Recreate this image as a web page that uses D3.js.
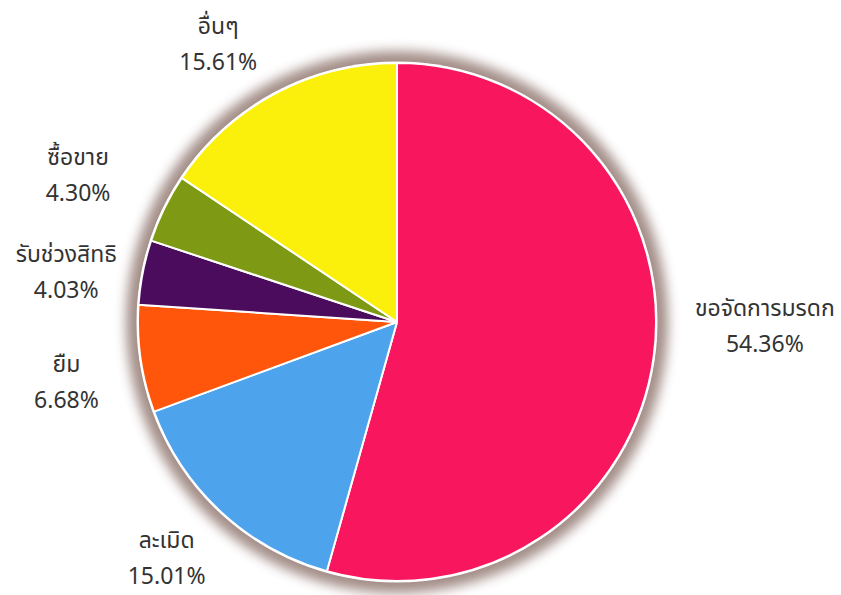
<!DOCTYPE html>
<html>
<head>
<meta charset="utf-8">
<script src="https://cdn.jsdelivr.net/npm/d3@7"></script>
<style>
html,body{margin:0;padding:0;background:#fff;}
svg{display:block;}
</style>
</head>
<body>
<svg id="chart" width="841" height="595"></svg>
<script>
// ---- data ----
const categories = ["ขอจัดการมรดก", "ละเมิด", "ยืม", "รับช่วงสิทธิ", "ซื้อขาย", "อื่นๆ"];
const values = [54.36, 15.01, 6.68, 4.03, 4.30, 15.61];
const valueLabels = ["54.36%", "15.01%", "6.68%", "4.03%", "4.30%", "15.61%"];
const colors = ["#F8165E", "#4DA3EC", "#FF560C", "#4B0C5E", "#7E9913", "#FAF00C"];

// ---- layout ----
const W = 841, H = 595;
const cx = 397, cy = 322, R = 259;
const labelR = 335;
const lineGap = 36;
// fine nudges for label blocks (layout only)
const nudges = {
  "ขอจัดการมรดก": [36, -52],
  "ละเมิด": [-3, -20],
  "ยืม": [1, 2],
  "รับช่วงสิทธิ": [-2, 4],
  "ซื้อขาย": [-18, -10],
  "อื่นๆ": [-21, 8]
};

const svg = d3.select("#chart");
const defs = svg.append("defs");
const f = defs.append("filter").attr("id", "halo")
  .attr("x", "-20%").attr("y", "-20%").attr("width", "140%").attr("height", "140%");
f.append("feGaussianBlur").attr("stdDeviation", 6);

const g = svg.append("g").attr("transform", `translate(${cx},${cy})`);

// halo / shadow behind the pie
g.append("circle").attr("r", R + 12)
  .attr("fill", "#9a827c").attr("opacity", 0.9)
  .attr("filter", "url(#halo)");
g.append("circle").attr("r", R + 1.5).attr("fill", "#ffffff");

const data = categories.map((c, i) => ({cat: c, value: values[i], label: valueLabels[i], color: colors[i]}));

const pie = d3.pie().sort(null).value(d => d.value);
const arc = d3.arc().innerRadius(0).outerRadius(R);
const arcs = pie(data);

g.selectAll("path.slice").data(arcs).join("path")
  .attr("class", "slice")
  .attr("d", arc)
  .attr("fill", d => d.data.color)
  .attr("stroke", "#ffffff")
  .attr("stroke-width", 2)
  .attr("stroke-linejoin", "round");

const lbl = svg.append("g")
  .attr("font-family", "'Noto Sans Thai', 'Noto Sans', 'Open Sans', 'DejaVu Sans', sans-serif")
  .attr("font-size", 23)
  .attr("fill", "#333333")
  .attr("text-anchor", "middle");

arcs.forEach(a => {
  const mid = (a.startAngle + a.endAngle) / 2;
  const n = nudges[a.data.cat] || [0, 0];
  const x = cx + labelR * Math.sin(mid) + n[0];
  const y = cy - labelR * Math.cos(mid) + n[1];
  const t = lbl.append("text").attr("x", x).attr("y", y);
  t.append("tspan").attr("x", x).attr("y", y).text(a.data.cat);
  t.append("tspan").attr("x", x).attr("y", y + lineGap).text(a.data.label);
});
</script>
</body>
</html>
